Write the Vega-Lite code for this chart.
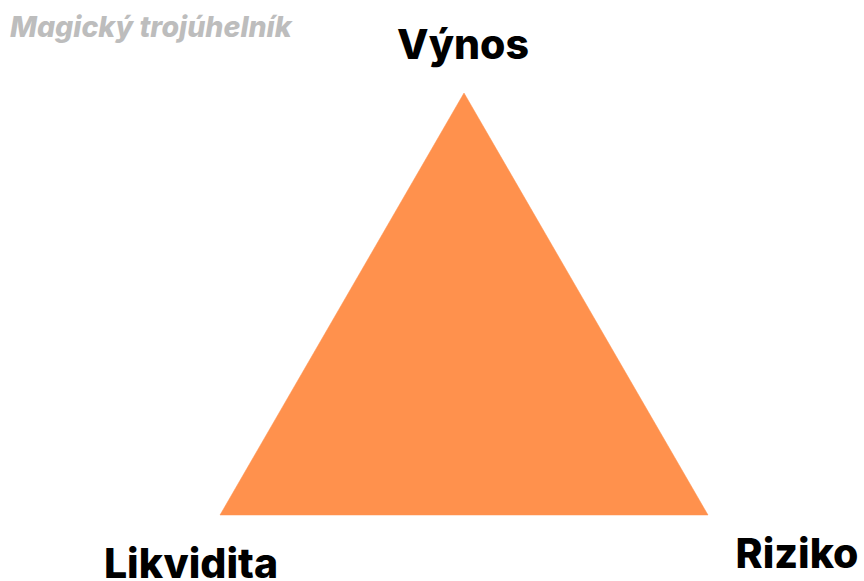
{
  "$schema": "https://vega.github.io/schema/vega-lite/v6.json",
  "width": 864,
  "height": 581,
  "autosize": {"type": "none"},
  "padding": 0,
  "background": "white",
  "view": {"stroke": null},
  "title": {
    "text": "Magický trojúhelník",
    "orient": "none",
    "anchor": "start",
    "frame": "group",
    "dx": 10,
    "dy": 37,
    "baseline": "alphabetic",
    "font": "Inter",
    "fontSize": 28.5,
    "fontWeight": 800,
    "fontStyle": "italic",
    "color": "#BDBDBD"
  },
  "datasets": {
    "triangle": [
      {"x": 464, "y": 93, "order": 1},
      {"x": 708, "y": 515, "order": 2},
      {"x": 220, "y": 515, "order": 3},
      {"x": 464, "y": 93, "order": 4}
    ],
    "labels": [
      {"label": "Výnos", "x": 463, "y": 59},
      {"label": "Likvidita", "x": 191, "y": 578},
      {"label": "Riziko", "x": 797, "y": 568}
    ]
  },
  "layer": [
    {
      "data": {"name": "triangle"},
      "mark": {"type": "line", "fill": "#FF914D", "stroke": "#FF914D", "strokeWidth": 0.5},
      "encoding": {
        "x": {"field": "x", "type": "quantitative", "scale": {"domain": [0, 864]}, "axis": null},
        "y": {"field": "y", "type": "quantitative", "scale": {"domain": [0, 581], "reverse": true}, "axis": null},
        "order": {"field": "order"}
      }
    },
    {
      "data": {"name": "labels"},
      "mark": {"type": "text", "font": "Inter", "fontSize": 41, "fontWeight": 800, "baseline": "alphabetic", "align": "center", "color": "#000000"},
      "encoding": {
        "x": {"field": "x", "type": "quantitative", "scale": {"domain": [0, 864]}, "axis": null},
        "y": {"field": "y", "type": "quantitative", "scale": {"domain": [0, 581], "reverse": true}, "axis": null},
        "text": {"field": "label"}
      }
    }
  ]
}
